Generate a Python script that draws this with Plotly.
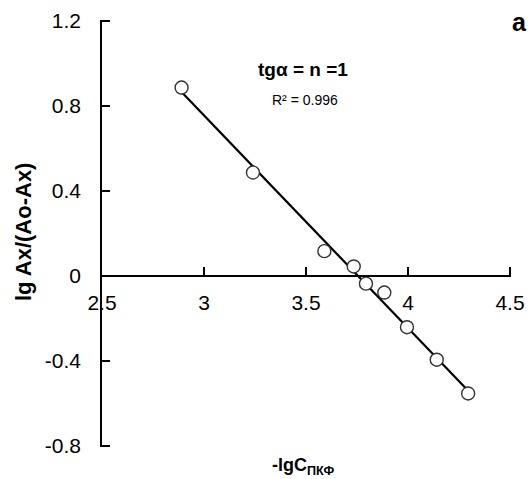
import numpy as np
import plotly.graph_objects as go

# Data
x_vals = [2.89, 3.24, 3.59, 3.734, 3.794, 3.884, 3.995, 4.141, 4.295]
y_vals = [0.887, 0.487, 0.117, 0.045, -0.036, -0.078, -0.241, -0.394, -0.553]

x_tickvals = [2.5, 3, 3.5, 4, 4.5]
x_ticktext = ["2.5", "3", "3.5", "4", "4.5"]
y_tickvals = [1.2, 0.8, 0.4, 0, -0.4, -0.8]
y_ticktext = ["1.2", "0.8", "0.4", "0", "-0.4", "-0.8"]

# axis ranges (slightly padded so that the end ticks are kept)
x_range = [2.5, 4.505]
y_range = [-0.805, 1.205]

# Linear trendline (least squares fit of the points)
slope, intercept = np.polyfit(x_vals, y_vals, 1)
trend_x = [min(x_vals), max(x_vals)]
trend_y = [slope * v + intercept for v in trend_x]

# x axis crosses the y axis at y = 0
x_axis_pos = (0 - y_range[0]) / (y_range[1] - y_range[0])

FONT = "Liberation Sans, Arial, sans-serif"

fig = go.Figure()
fig.add_trace(go.Scatter(
    x=trend_x, y=trend_y, mode="lines",
    line=dict(color="black", width=2.2), showlegend=False, hoverinfo="skip"))
fig.add_trace(go.Scatter(
    x=x_vals, y=y_vals, mode="markers",
    marker=dict(symbol="circle", size=13, color="white",
                line=dict(color="#333333", width=1.4)),
    showlegend=False))

fig.update_layout(
    width=530, height=479,
    margin=dict(l=102, r=19, t=20, b=32, autoexpand=False),
    paper_bgcolor="white", plot_bgcolor="white",
    font=dict(family=FONT, color="black"),
    xaxis=dict(
        range=x_range, anchor="free", position=x_axis_pos,
        tickvals=x_tickvals, ticktext=x_ticktext,
        ticks="inside", ticklen=8, tickwidth=2, tickcolor="black",
        showline=True, linecolor="black", linewidth=1.6,
        showgrid=False, zeroline=False,
        tickfont=dict(size=21, family=FONT, color="black"),
        ticklabelstandoff=8,
    ),
    yaxis=dict(
        range=y_range,
        tickvals=y_tickvals, ticktext=y_ticktext,
        ticks="inside", ticklen=8, tickwidth=2, tickcolor="black",
        showline=True, linecolor="black", linewidth=1.6,
        showgrid=False, zeroline=False,
        tickfont=dict(size=21, family=FONT, color="black"),
        ticklabelstandoff=15,
    ),
    annotations=[
        dict(text="<b>tgα = n =1</b>", x=3.483, y=0.972, xref="x", yref="y",
             showarrow=False, font=dict(size=19, family=FONT, color="black"),
             xanchor="center", yanchor="middle"),
        dict(text="R² = 0.996", x=3.493, y=0.83, xref="x", yref="y",
             showarrow=False, font=dict(size=14, family=FONT, color="black"),
             xanchor="center", yanchor="middle"),
        dict(text="<b>a</b>", x=1.0196, y=0.995, xref="paper", yref="paper",
             showarrow=False, font=dict(size=25, family=FONT, color="black"),
             xanchor="center", yanchor="middle"),
        dict(text="<b>lg Ax/(Ao-Ax)</b>", x=-0.193, y=0.5035, xref="paper", yref="paper",
             showarrow=False, textangle=-90,
             font=dict(size=22, family=FONT, color="black"),
             xanchor="center", yanchor="middle"),
        dict(text="<b>-lgC<sub>ПКФ</sub></b>", x=0.492, y=-0.045, xref="paper", yref="paper",
             showarrow=False, font=dict(size=18, family=FONT, color="black"),
             xanchor="center", yanchor="middle"),
    ],
)

fig.write_html(
    "out.html",
    config={"displayModeBar": False},
    post_script="document.body.style.margin='0';document.body.style.overflow='hidden';",
)
